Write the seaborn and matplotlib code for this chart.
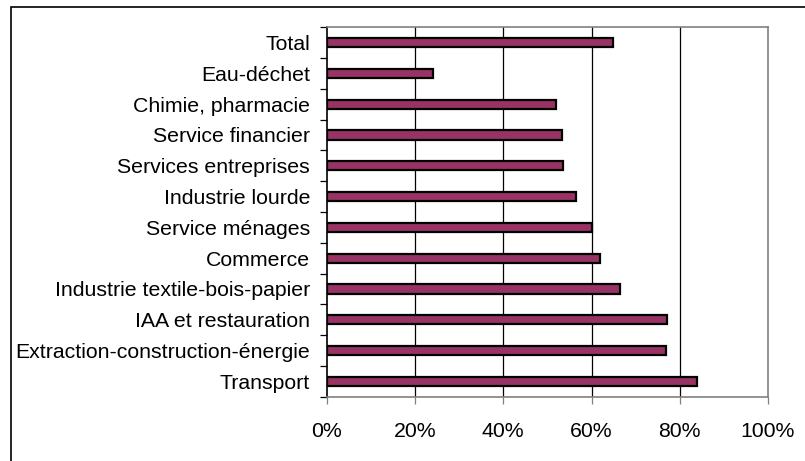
import matplotlib.pyplot as plt
import matplotlib.ticker as mticker
import pandas as pd
import seaborn as sns
from matplotlib.patches import Rectangle

secteurs = [
    'Total',
    'Eau-déchet',
    'Chimie, pharmacie',
    'Service financier',
    'Services entreprises',
    'Industrie lourde',
    'Service ménages',
    'Commerce',
    'Industrie textile-bois-papier',
    'IAA et restauration',
    'Extraction-construction-énergie',
    'Transport',
]
parts = [64.9, 24.0, 51.9, 53.3, 53.6, 56.4, 60.2, 62.0, 66.4, 77.0, 76.8, 83.8]
xticks = [0, 20, 40, 60, 80, 100]

df = pd.DataFrame({'secteur': secteurs, 'part': parts})

sns.set_style('white')
plt.rcParams['font.family'] = ['Liberation Sans', 'DejaVu Sans']
plt.rcParams['text.color'] = 'black'
plt.rcParams['xtick.labelcolor'] = 'black'
plt.rcParams['ytick.labelcolor'] = 'black'

fig = plt.figure(figsize=(8.05, 4.61), dpi=100)
ax = fig.add_axes([0.406, 0.1395, 0.548, 0.8015])

sns.barplot(data=df, x='part', y='secteur', order=secteurs, orient='h',
            color='#993366', saturation=1, width=0.3,
            edgecolor='black', linewidth=1.6, ax=ax)

ax.set_xlim(0, 100)
ax.set_ylim(len(secteurs) - 0.5, -0.5)
ax.set_xticks(xticks)
ax.xaxis.set_major_formatter(mticker.FuncFormatter(lambda v, p: f'{v:.0f}%'))
ax.set_xlabel('')
ax.set_ylabel('')

for v in xticks[1:-1]:
    ax.axvline(v, color='black', linewidth=0.9, zorder=0)

# category boundaries get the tick marks, labels stay centred
ax.set_yticks([i - 0.5 for i in range(len(secteurs) + 1)], minor=True)
ax.tick_params(axis='y', which='minor', left=True, length=5, width=0.9, color='black')
ax.tick_params(axis='y', which='major', left=True, length=0, pad=12, labelsize=15.3)
ax.tick_params(axis='x', bottom=True, length=5, width=0.9, color='#808080', pad=13, labelsize=15.3)

for side in ['top', 'right', 'bottom']:
    ax.spines[side].set_color('#808080')
    ax.spines[side].set_linewidth(1.2)
ax.spines['left'].set_color('black')
ax.spines['left'].set_linewidth(1.2)

fig.patches.append(Rectangle((11 / 805, -0.1), 1.1, 1 - 7 / 461 + 0.1,
                             transform=fig.transFigure, fill=False,
                             edgecolor='black', linewidth=1.2))

fig.savefig('out.png', dpi=100)
